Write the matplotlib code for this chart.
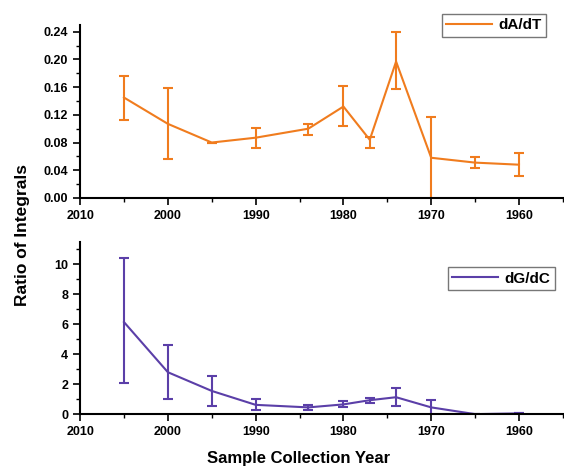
import matplotlib.pyplot as plt
from matplotlib.lines import Line2D
from matplotlib.ticker import MultipleLocator

plt.rcParams['font.family'] = ['Liberation Sans', 'DejaVu Sans']
plt.rcParams['font.weight'] = 'bold'

years = [2005, 2000, 1995, 1990, 1984, 1980, 1977, 1974, 1970, 1965, 1960]

# dA/dT ratio with upper / lower error bar ends
at_ratio = [0.145, 0.107, 0.080, 0.087, 0.100, 0.132, 0.084, 0.197, 0.058, 0.051, 0.048]
at_upper = [0.176, 0.159, 0.080, 0.101, 0.107, 0.162, 0.088, 0.240, 0.117, 0.059, 0.065]
at_lower = [0.113, 0.056, 0.080, 0.072, 0.091, 0.104, 0.072, 0.158, -0.01, 0.043, 0.031]

# dG/dC ratio with upper / lower error bar ends
gc_ratio = [6.15, 2.8, 1.55, 0.62, 0.45, 0.65, 0.93, 1.13, 0.45, 0.0, 0.05]
gc_upper = [10.4, 4.65, 2.55, 1.0, 0.6, 0.85, 1.1, 1.73, 0.95, 0.0, 0.05]
gc_lower = [2.1, 1.0, 0.55, 0.25, 0.3, 0.45, 0.75, 0.55, -0.2, 0.0, 0.05]

orange = '#f07c1e'
purple = '#5b3fa8'

fig = plt.figure(figsize=(5.64, 4.69), dpi=100)
ax1 = fig.add_axes([0.142, 0.578, 0.856, 0.369])
ax2 = fig.add_axes([0.142, 0.117, 0.856, 0.367])


def draw(ax, y, up, lo, color, label, anchor):
    yerr = [[v - l for v, l in zip(y, lo)], [u - v for v, u in zip(y, up)]]
    ax.errorbar(years, y, yerr=yerr, color=color, lw=1.5, elinewidth=1.5,
                capsize=3.5, capthick=1.5)
    ax.set_xlim(2010, 1955)
    ax.spines['top'].set_visible(False)
    ax.spines['right'].set_visible(False)
    ax.spines['left'].set_linewidth(1.5)
    ax.spines['bottom'].set_linewidth(1.5)
    ax.xaxis.set_major_locator(MultipleLocator(10))
    ax.xaxis.set_minor_locator(MultipleLocator(5))
    ax.tick_params(which='major', direction='out', length=5, width=1.2, labelsize=9)
    ax.tick_params(which='minor', direction='out', length=3, width=1.0)
    handle = Line2D([], [], color=color, lw=1.5)
    leg = ax.legend(handles=[handle], labels=[label], loc='upper right',
                    fancybox=False, frameon=True,
                    prop={'weight': 'bold', 'size': 11}, handlelength=3,
                    borderpad=0.3, handletextpad=0.4, borderaxespad=0,
                    bbox_to_anchor=anchor)
    leg.get_frame().set_edgecolor('#555555')
    leg.get_frame().set_linewidth(1.0)


draw(ax1, at_ratio, at_upper, at_lower, orange, 'dA/dT', (0.965, 1.064))
ax1.set_ylim(0, 0.25)
ax1.yaxis.set_major_locator(MultipleLocator(0.04))
ax1.yaxis.set_minor_locator(MultipleLocator(0.02))
ax1.yaxis.set_major_formatter(plt.FormatStrFormatter('%.2f'))

draw(ax2, gc_ratio, gc_upper, gc_lower, purple, 'dG/dC', (0.983, 0.855))
ax2.set_ylim(0, 11.5)
ax2.yaxis.set_major_locator(MultipleLocator(2))
ax2.yaxis.set_minor_locator(MultipleLocator(1))

for ax in (ax1, ax2):
    for t in ax.get_xticklabels() + ax.get_yticklabels():
        t.set_fontweight('bold')

fig.text(0.04, 0.5, 'Ratio of Integrals', rotation=90, va='center', ha='center',
         fontsize=12.5, fontweight='bold')
fig.text(0.53, 0.022, 'Sample Collection Year', va='center', ha='center',
         fontsize=12, fontweight='bold')

fig.savefig('out.png', dpi=100)
